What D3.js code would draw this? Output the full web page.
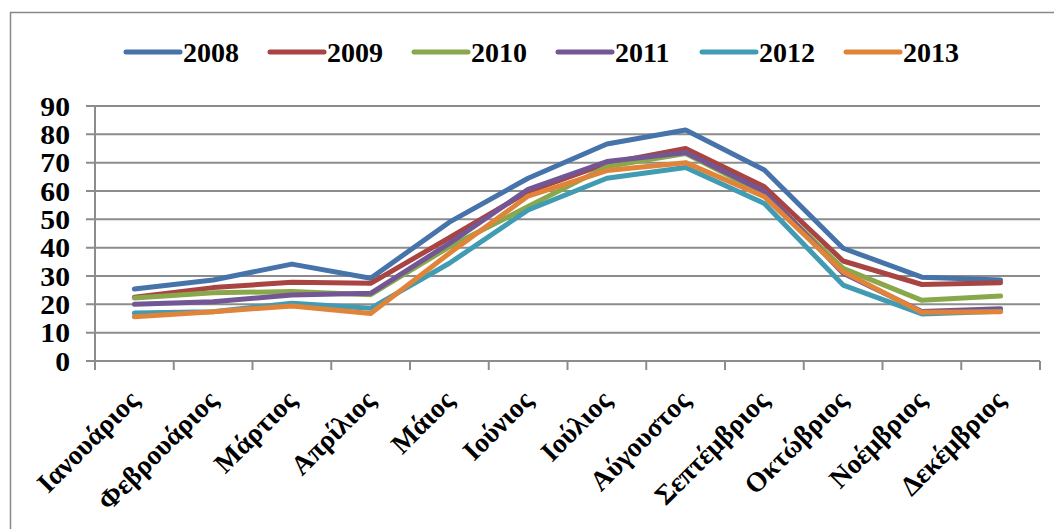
<!DOCTYPE html>
<html><head><meta charset="utf-8">
<script src="https://cdn.jsdelivr.net/npm/d3@7"></script>
<style>
html,body{margin:0;padding:0;background:#fff;}
svg{display:block;font-family:"Liberation Serif","Times New Roman",serif;font-weight:bold;}
</style></head>
<body>
<svg id="chart" width="1054" height="529"></svg>
<script>
const months = ["Ιανουάριος","Φεβρουάριος","Μάρτιος","Απρίλιος","Μάιος","Ιούνιος","Ιούλιος","Αύγουστος","Σεπτέμβριος","Οκτώβριος","Νοέμβριος","Δεκέμβριος"];
const seriesNames = ["2008","2009","2010","2011","2012","2013"];
const s2008 = [25.4, 28.6, 34.2, 29.2, 49.0, 64.5, 76.6, 81.5, 67.4, 39.8, 29.6, 28.6];
const s2009 = [22.5, 25.9, 27.8, 27.4, 43.5, 59.8, 69.7, 75.0, 61.5, 35.3, 27.0, 27.6];
const s2010 = [22.2, 24.1, 24.5, 23.4, 40.3, 54.5, 68.6, 73.2, 59.0, 32.7, 21.4, 22.9];
const s2011 = [20.0, 20.9, 23.3, 23.9, 41.5, 60.6, 70.4, 73.6, 59.8, 31.0, 17.5, 18.4];
const s2012 = [16.9, 17.4, 20.4, 18.6, 34.5, 53.3, 64.5, 68.3, 55.6, 26.8, 16.6, 17.6];
const s2013 = [15.6, 17.4, 19.4, 16.8, 38.0, 58.2, 67.2, 70.0, 58.0, 31.5, 17.2, 17.4];
const yTicks = [0,10,20,30,40,50,60,70,80,90];
const colors = ["#4673AA","#A84441","#89A84B","#735694","#419BB3","#E0843A"];

const allSeries = [s2008, s2009, s2010, s2011, s2012, s2013];
const svg = d3.select("#chart");

// outer border
svg.append("rect").attr("x",10.5).attr("y",12.5).attr("width",1100).attr("height",600)
  .attr("fill","none").attr("stroke","#888").attr("stroke-width",1.5);

const pLeft = 95, pRight = 1040, pTop = 106, pBottom = 361;
const x = d3.scaleBand().domain(months).range([pLeft, pRight]).padding(0);
const y = d3.scaleLinear().domain([0, 90]).range([pBottom, pTop]);

// gridlines
svg.append("g").selectAll("line").data(yTicks).join("line")
  .attr("x1", pLeft - 9).attr("x2", pRight)
  .attr("y1", d => y(d)).attr("y2", d => y(d))
  .attr("stroke", "#8c8c8c").attr("stroke-width", 2);

// y axis line
svg.append("line").attr("x1", pLeft).attr("x2", pLeft).attr("y1", pTop).attr("y2", pBottom + 1)
  .attr("stroke", "#8c8c8c").attr("stroke-width", 2);

// x tick marks
const tickXs = months.map(m => x(m)).concat([pRight]);
svg.append("g").selectAll("line").data(tickXs).join("line")
  .attr("x1", d => d).attr("x2", d => d).attr("y1", pBottom).attr("y2", pBottom + 9)
  .attr("stroke", "#8c8c8c").attr("stroke-width", 2);

// y labels
svg.append("g").selectAll("text").data(yTicks).join("text")
  .attr("x", 70).attr("y", d => y(d)).attr("dy", "0.34em")
  .attr("text-anchor", "end").attr("font-size", 28)
  .attr("transform", "translate(70,0) scale(1.06,1) translate(-70,0)")
  .text(d => d);

// x labels
svg.append("g").selectAll("text").data(months).join("text")
  .attr("transform", d => `translate(${x(d) + x.bandwidth()/2 + 6},${pBottom + 41}) rotate(-45)`)
  .attr("text-anchor", "end").attr("font-size", 27.5).text(d => d);

// lines
const line = d3.line().x((d, i) => x(months[i]) + x.bandwidth()/2).y(d => y(d));
svg.append("g").selectAll("path").data(allSeries).join("path")
  .attr("d", d => line(d)).attr("fill", "none")
  .attr("stroke", (d, i) => colors[i]).attr("stroke-width", 5)
  .attr("stroke-linejoin", "round").attr("stroke-linecap", "round");

// legend
const lg = svg.append("g").selectAll("g").data(seriesNames).join("g")
  .attr("transform", (d, i) => `translate(${126 + i * 144},52)`);
lg.append("line").attr("x1", 0).attr("x2", 54).attr("y1", 0).attr("y2", 0)
  .attr("stroke", (d, i) => colors[i]).attr("stroke-width", 5).attr("stroke-linecap", "round");
lg.append("text").attr("x", 57).attr("y", 0).attr("dy", "0.34em")
  .attr("font-size", 28).text(d => d);
</script>
</body></html>
